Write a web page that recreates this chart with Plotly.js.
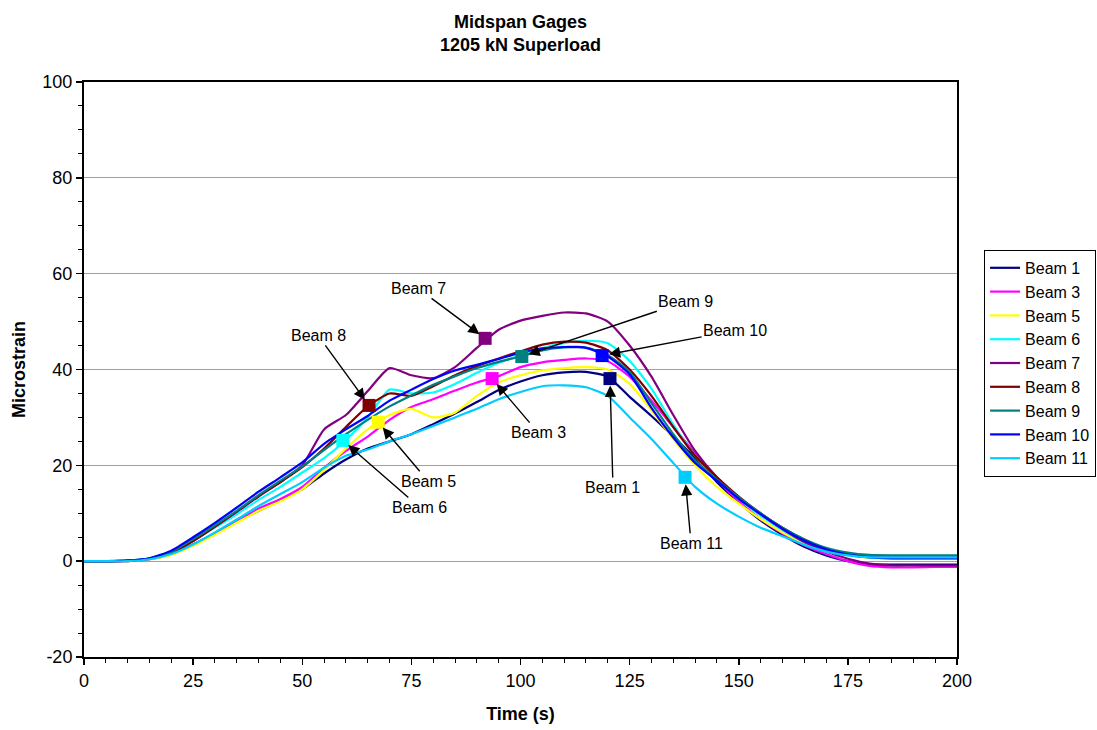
<!DOCTYPE html>
<html>
<head>
<meta charset="utf-8">
<script src="https://cdn.plot.ly/plotly-3.0.1.min.js"></script>
<style>html,body{margin:0;padding:0;background:#fff;}#chart{width:1097px;height:730px;}</style>
</head>
<body>
<div id="chart"></div>
<script>
// Time grid (s)
var time = [0,5,10,15,20,25,30,35,40,45,50,55,60,65,70,75,80,85,90,95,100,105,110,115,120,125,130,135,140,145,150,155,160,165,170,175,180,185,190,195,200];

var beam1  = [0,0,0,0.4,1.5,3.5,5.8,8.3,10.5,12.7,15,18.3,21.2,23.5,25,26.5,28.6,30.8,33.2,35.7,37.5,38.8,39.4,39.5,38.5,34.3,30.3,26,21.5,16.5,12.3,8.5,5.5,3,1.2,0,-0.6,-0.7,-0.7,-0.7,-0.7];
var beam3  = [0,0,0,0.4,1.4,3.4,5.8,8.4,11,13,15.5,19.5,23,26,29.5,32.2,33.8,35.6,37.3,38.6,40.5,41.5,42,42.3,41.7,38.5,33.5,28,22.5,17,12.5,8.8,5.8,3.3,1.5,0,-1,-1.3,-1.3,-1.2,-1.2];
var beam5  = [0,0,0,0.4,1.3,3.2,5.5,8,10.5,12.5,15,19,23.5,27.5,30.5,31.8,30,31,34.5,37.3,38.8,39.8,40.3,40.5,40,37,31.5,25.5,20,15.5,12,8.8,6,3.8,2.2,1.2,0.7,0.5,0.5,0.5,0.5];
var beam6  = [0,0,0.1,0.6,2,4.3,7,9.8,12.8,15.5,18.5,21.5,25.3,30,35.8,35,35.2,37,39.3,41.4,43,44.5,45.5,46,45.5,41.8,36,28.5,22,17,13,9.5,6.5,4,2.3,1.3,0.8,0.8,0.8,0.8,0.8];
var beam7  = [0,0,0.1,0.5,1.8,4.2,7.2,10.3,13.5,16.5,20,27.5,30.5,35.5,40.3,38.8,38.2,40.5,44.5,48.3,50.2,51.2,51.9,51.7,50,45,38.5,30.5,23,17.5,13.3,9.8,6.7,4,2,0.5,-0.5,-0.9,-0.9,-0.9,-0.9];
var beam8  = [0,0,0.1,0.5,1.8,4.2,7.2,10.4,13.6,16.5,19.6,23.5,28,32.3,35,34.5,36.5,38.8,40.7,42.3,43.8,45.2,45.8,45.6,44,40,34.5,28,22,17.5,13.5,10,7,4.5,2.6,1.5,1,0.9,0.9,0.9,0.9];
var beam9  = [0,0,0.1,0.6,2,4.6,7.5,10.5,13.8,16.8,19.8,23.2,26.5,29.5,32.3,34.6,36.8,38.6,40.3,41.6,42.7,44,44.6,44.6,43,39.5,33,26.5,21,17,13.3,10,7,4.6,2.8,1.8,1.3,1.2,1.2,1.2,1.2];
var beam10 = [0,0,0.1,0.6,2.2,5,8,11.2,14.5,17.5,20.6,24.5,27.5,30.3,33.5,35.8,38,39.8,41,42.2,43.5,44.4,44.7,44.5,42.7,39,32,25.8,20.5,16.8,13,9.8,6.8,4.3,2.5,1.4,0.8,0.6,0.6,0.6,0.6];
var beam11 = [0,0,0,0.4,1.5,3.5,6,8.7,11.5,14,16.5,19.5,22,23.3,25,26.5,28.2,30,31.8,33.8,35.3,36.5,36.7,36.3,34.5,30,25.5,20.5,15.5,12,9.3,7,5.2,3.4,2,1.2,0.8,0.8,0.8,0.8,0.8];

var seriesNames  = ["Beam 1","Beam 3","Beam 5","Beam 6","Beam 7","Beam 8","Beam 9","Beam 10","Beam 11"];
var seriesValues = [beam1, beam3, beam5, beam6, beam7, beam8, beam9, beam10, beam11];
var seriesColors = ["#000080","#ff00ff","#ffff00","#00ffff","#800080","#800000","#008080","#0000ff","#00ccff"];

// Axis tick labels
var xTickVals = [0,25,50,75,100,125,150,175,200];
var yTickVals = [-20,0,20,40,60,80,100];
var yTickText = ["-20","0","20","40","60","80","100"];

// Labelled marker points
var markerNames = ["Beam 7","Beam 8","Beam 6","Beam 5","Beam 3","Beam 9","Beam 10","Beam 1","Beam 11"];
var markerT = [91.9, 65.3, 59.3, 67.4, 93.5, 100.3, 118.7, 120.5, 137.7];
var markerV = [46.5, 32.5, 25.2, 29.0, 38.1, 42.7, 42.9, 38.1, 17.5];
var markerColors = ["#800080","#800000","#00ffff","#ffff00","#ff00ff","#008080","#0000ff","#000080","#00ccff"];
// label offsets (pixels from marker to label)
var labelDX = [-67, -51, 77, 50, 46, 164, 133, 3, 6];
var labelDY = [-50, -70, 67, 59, 54, -55, -25, 109, 66];

var FONT = "Liberation Sans, Arial, sans-serif";

var traces = [];
for (var i = 0; i < seriesNames.length; i++) {
  traces.push({
    x: time, y: seriesValues[i], name: seriesNames[i], type: "scatter", mode: "lines",
    line: {color: seriesColors[i], width: 2.2, shape: "spline", smoothing: 0.6}
  });
}
traces.push({
  x: markerT, y: markerV, type: "scatter", mode: "markers", showlegend: false,
  marker: {symbol: "square", size: 13, color: markerColors, line: {width: 0}}
});

var annotations = [];
for (var j = 0; j < markerNames.length; j++) {
  annotations.push({
    x: markerT[j], y: markerV[j], xref: "x", yref: "y",
    text: markerNames[j], showarrow: true, ax: labelDX[j], ay: labelDY[j],
    arrowhead: 2, arrowsize: 1.6, arrowwidth: 1.4, arrowcolor: "#000", standoff: 7,
    font: {family: FONT, size: 16, color: "#000"}
  });
}

var layout = {
  width: 1097, height: 730,
  margin: {l: 84, r: 140, t: 82, b: 73, autoexpand: false},
  paper_bgcolor: "#fff", plot_bgcolor: "#fff",
  font: {family: FONT, size: 18, color: "#000"},
  title: {text: "<b>Midspan Gages<br>1205 kN Superload</b>", font: {family: FONT, size: 18, color: "#000"},
          x: 0.4745, xanchor: "center", y: 0.962, yanchor: "top", yref: "container"},
  showlegend: true,
  legend: {x: 1.031, xanchor: "left", y: 0.708, yanchor: "top", bordercolor: "#000", borderwidth: 1,
           font: {family: FONT, size: 16, color: "#000"}, tracegroupgap: 0, itemwidth: 30, bgcolor: "#fff"},
  xaxis: {
    range: [0, 200], tickvals: xTickVals, ticks: "outside", ticklen: 6, tickwidth: 1.5, tickcolor: "#000",
    minor: {dtick: 5, ticks: "outside", ticklen: 4, tickcolor: "#000", tickwidth: 1},
    showline: true, linecolor: "#000", linewidth: 2, mirror: true, showgrid: false, zeroline: false,
    title: {text: "<b>Time (s)</b>", font: {family: FONT, size: 18, color: "#000"}, standoff: 18},
    tickfont: {family: FONT, size: 18, color: "#000"}, fixedrange: true
  },
  yaxis: {
    range: [-20, 100], tickvals: yTickVals, ticktext: yTickText, ticks: "outside", ticklen: 6, tickwidth: 1.5, tickcolor: "#000",
    minor: {dtick: 5, ticks: "outside", ticklen: 4, tickcolor: "#000", tickwidth: 1},
    showline: true, linecolor: "#000", linewidth: 2, mirror: true,
    showgrid: true, gridcolor: "#a0a0a0", gridwidth: 1, zeroline: true, zerolinecolor: "#a0a0a0", zerolinewidth: 1,
    title: {text: "<b>Microstrain</b>", font: {family: FONT, size: 18, color: "#000"}, standoff: 12},
    tickfont: {family: FONT, size: 18, color: "#000"}, fixedrange: true
  },
  annotations: annotations
};

Plotly.newPlot("chart", traces, layout, {displayModeBar: false, staticPlot: true});
</script>
</body>
</html>
